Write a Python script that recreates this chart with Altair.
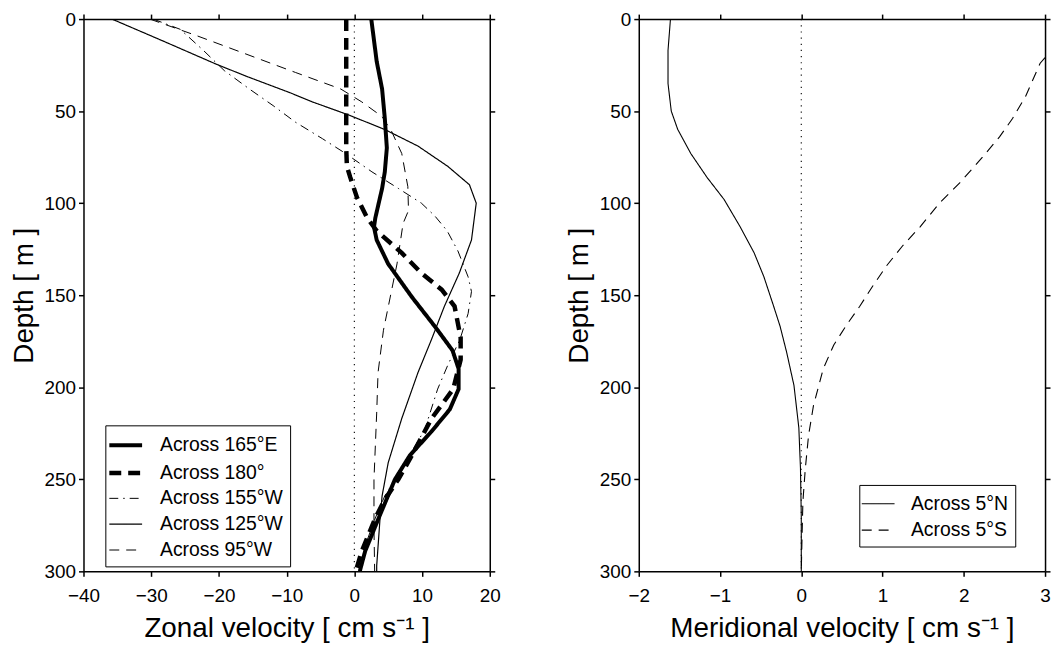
import altair as alt
import pandas as pd

FONT = "Liberation Sans"

# ---------------- Zonal velocity (left panel) ----------------
zonal_names = ["Across 165°E", "Across 180°", "Across 155°W", "Across 125°W", "Across 95°W"]

depth_165E = [0, 23, 38, 54, 70, 83, 92, 108, 113, 120, 133, 151, 167, 180, 190, 201, 212, 224, 237, 250, 271, 289, 300]
u_165E = [2.5, 3.3, 4.1, 4.5, 4.8, 4.5, 4.1, 3.1, 2.9, 3.3, 5.0, 8.5, 11.9, 14.5, 15.4, 15.4, 14.1, 11.4, 8.2, 6.0, 3.6, 1.6, 0.8]

depth_180 = [0, 70, 80, 86, 97, 108, 115, 127, 138, 147, 156, 173, 185, 201, 217, 237, 250, 261, 271, 289, 300]
u_180 = [-1.2, -1.2, -1.1, -0.6, 0.4, 1.9, 3.3, 7.0, 9.9, 12.9, 14.8, 15.7, 15.7, 14.6, 11.4, 8.5, 6.5, 4.5, 3.1, 1.1, 0.2]

depth_155W = [0, 5.6, 17, 28, 38, 47, 56, 65, 73, 83, 92, 100, 107, 115, 126, 140, 148, 160, 174, 188, 201, 223, 241, 259, 271, 286, 300]
u_155W = [-29.7, -25.7, -22.3, -19.2, -15.5, -12.0, -8.7, -4.7, -1.3, 2.6, 6.5, 9.9, 11.9, 13.7, 15.3, 16.8, 17.3, 16.8, 15.6, 13.8, 12.3, 10.4, 7.5, 4.5, 3.1, 1.6, 0.9]

depth_125W = [0, 12, 24.5, 31, 40, 45, 52, 60, 69, 80, 90, 100, 120, 138, 156, 174, 192, 217, 241, 259, 271, 297, 300]
u_125W = [-35.8, -28.2, -20.4, -16.0, -9.5, -6.2, -0.9, 4.5, 9.4, 13.8, 17.0, 18.0, 17.3, 15.5, 13.3, 11.4, 9.4, 7.0, 5.0, 4.1, 3.8, 3.3, 3.3]

depth_95W = [0, 9, 19, 29, 38, 45, 53, 61, 73, 91, 104, 111, 133, 151, 169, 192, 214, 250, 277, 300]
u_95W = [-30.2, -23.3, -16.0, -8.7, -2.0, 1.1, 4.1, 5.5, 7.0, 7.9, 8.0, 7.2, 6.3, 5.3, 4.3, 3.5, 3.3, 2.9, 2.9, 3.0]

zonal_series = [
    (zonal_names[0], depth_165E, u_165E),
    (zonal_names[1], depth_180, u_180),
    (zonal_names[2], depth_155W, u_155W),
    (zonal_names[3], depth_125W, u_125W),
    (zonal_names[4], depth_95W, u_95W),
]
zonal_dash = [[1, 0], [12, 7], [9, 5, 1.5, 5], [1, 0], [10, 7]]
zonal_width = [4, 4.5, 1, 1.2, 1]

# ---------------- Meridional velocity (right panel) ----------------
merid_names = ["Across 5°N", "Across 5°S"]

depth_5N = [0, 17, 35, 50, 60, 73, 86, 98, 113, 127, 140, 156, 167, 181, 199, 222, 244, 270, 300]
v_5N = [-1.61, -1.64, -1.64, -1.60, -1.52, -1.36, -1.16, -0.95, -0.75, -0.58, -0.46, -0.34, -0.26, -0.18, -0.09, -0.03, -0.01, 0.0, 0.0]

depth_5S = [21, 24, 42, 54, 64, 75, 89, 100, 113, 123, 134, 145, 156, 166, 177, 190, 210, 226, 244, 262, 280, 300]
v_5S = [3.0, 2.94, 2.76, 2.60, 2.44, 2.23, 1.95, 1.70, 1.46, 1.25, 1.05, 0.88, 0.72, 0.56, 0.40, 0.27, 0.15, 0.09, 0.05, 0.02, 0.01, 0.0]

merid_series = [
    (merid_names[0], depth_5N, v_5N),
    (merid_names[1], depth_5S, v_5S),
]
merid_dash = [[1, 0], [10, 7]]
merid_width = [1.1, 1.1]

zonal_ticks = [-40, -30, -20, -10, 0, 10, 20]
merid_ticks = [-2, -1, 0, 1, 2, 3]
depth_ticks = [0, 50, 100, 150, 200, 250, 300]


def to_frame(series):
    rows = []
    for name, d, v in series:
        for dd, vv in zip(d, v):
            rows.append({"series": name, "depth": dd, "vel": vv})
    return pd.DataFrame(rows)


def panel(series, names, dashes, widths, xdomain, xticks, xtitle, legx, legy):
    df = to_frame(series)
    xscale = alt.Scale(domain=xdomain, nice=False, zero=False)
    yscale = alt.Scale(domain=[0, 300], reverse=True, nice=False)

    legend = alt.Legend(
        title=None, orient="none", legendX=legx, legendY=legy,
        symbolType="M-1.5,0H1.5", symbolSize=484, symbolStrokeColor="black",
        labelFont=FONT, labelFontSize=19.5, labelColor="black", labelOffset=21,
        rowPadding=4.5, padding=7, strokeColor="black", fillColor="white",
        cornerRadius=0,
    )

    lines = alt.Chart(df).mark_line(color="black", clip=True).encode(
        x=alt.X("vel:Q", scale=xscale,
                axis=alt.Axis(values=xticks, title=xtitle, orient="bottom",
                              labelPadding=10, titlePadding=10)),
        y=alt.Y("depth:Q", scale=yscale,
                axis=alt.Axis(values=depth_ticks, title="Depth [ m ]", orient="left",
                              titlePadding=6)),
        order=alt.Order("depth:Q"),
        strokeDash=alt.StrokeDash("series:N", scale=alt.Scale(domain=names, range=dashes),
                                  legend=legend),
        strokeWidth=alt.StrokeWidth("series:N",
                                    scale=alt.Scale(type="ordinal", domain=names, range=widths),
                                    legend=legend),
    )

    frame = alt.Chart(df).mark_line(opacity=0).encode(
        x=alt.X("vel:Q", scale=xscale,
                axis=alt.Axis(values=xticks, title=None, labels=False, orient="top")),
        y=alt.Y("depth:Q", scale=yscale,
                axis=alt.Axis(values=depth_ticks, title=None, labels=False, orient="right")),
        detail="series:N",
    )

    zero = alt.Chart(pd.DataFrame({"vel": [0]})).mark_rule(
        color="black", strokeWidth=1.1, strokeDash=[1.2, 5]
    ).encode(x=alt.X("vel:Q", scale=xscale, axis=None))

    return alt.layer(zero, lines, frame).resolve_axis(x="independent", y="independent").properties(
        width=409, height=556
    )


left = panel(zonal_series, zonal_names, zonal_dash, zonal_width, [-40, 20], zonal_ticks,
             "Zonal velocity [ cm s⁻¹ ]", 22, 409)
right = panel(merid_series, merid_names, merid_dash, merid_width, [-2, 3], merid_ticks,
              "Meridional velocity [ cm s⁻¹ ]", 222, 469)

chart = alt.hconcat(left, right, spacing=65).resolve_scale(
    strokeDash="independent", strokeWidth="independent"
).properties(
    padding={"left": 2, "top": 0, "right": 0, "bottom": 0}
).configure_view(stroke=None).configure_axis(
    domainColor="black", domainWidth=1.5, tickColor="black", tickWidth=1.5, tickSize=5,
    labelFont=FONT, labelFontSize=19, labelColor="black", labelPadding=3,
    labelFlush=False, labelOverlap=False, grid=False,
    titleFont=FONT, titleFontSize=28, titleFontWeight="normal", titleColor="black",
    titlePadding=8,
)

chart.save("out.html", embed_options={"renderer": "svg", "actions": False})
